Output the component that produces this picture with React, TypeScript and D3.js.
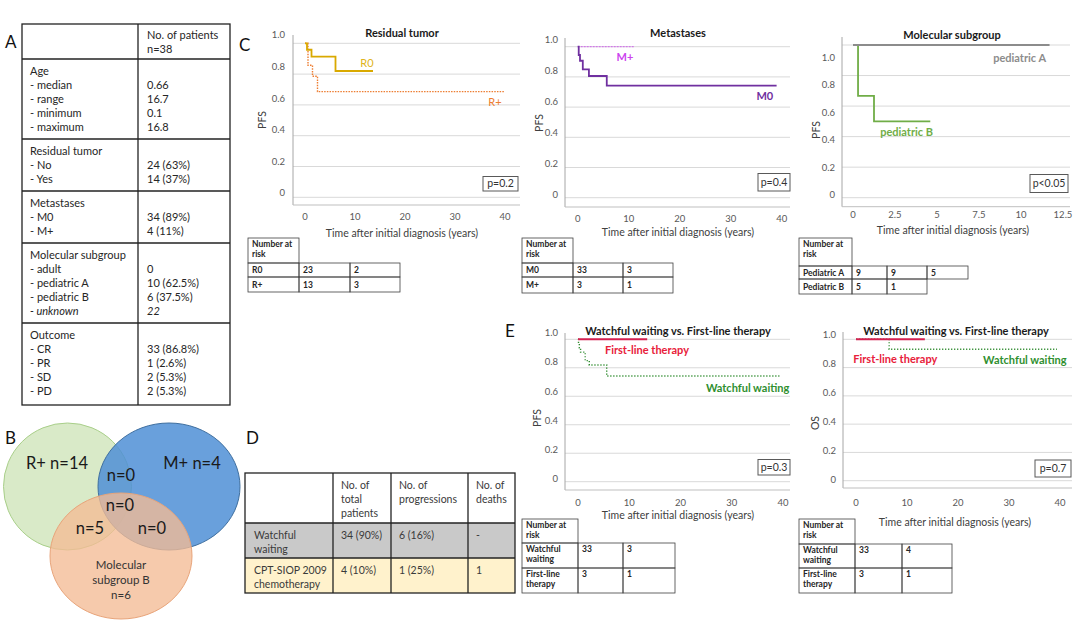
import React, { useEffect, useRef } from 'react';
import * as d3 from 'd3';

type Pt = [number, number];

// ---- Kaplan-Meier curves: [years, survival] ----
const r0Curve: Pt[] = [[0, 1], [0.4, 0.958], [1.3, 0.913], [6.1, 0.82], [13.6, 0.82]];
const rPlusCurve: Pt[] = [[0, 1], [0.6, 0.857], [1.5, 0.786], [2.5, 0.686], [39.8, 0.686]];
const m0Curve: Pt[] = [[0, 1], [0.2, 0.945], [0.45, 0.907], [1.0, 0.85], [2.2, 0.806], [5.7, 0.742], [39, 0.742]];
const mPlusCurve: Pt[] = [[0, 1], [11, 1]];
const pedACurve: Pt[] = [[0, 1], [11.7, 1]];
const pedBCurve: Pt[] = [[0, 1], [0.3, 0.667], [1.25, 0.5], [4.6, 0.5]];
const wwPfsCurve: Pt[] = [[0, 1], [0.1, 0.97], [0.26, 0.94], [0.5, 0.91], [1.4, 0.85], [2.2, 0.82], [5.6, 0.742], [39.3, 0.742]];
const flPfsCurve: Pt[] = [[0, 1], [13.5, 1]];
const wwOsCurve: Pt[] = [[0, 1], [6.5, 0.93], [39.4, 0.93]];
const flOsCurve: Pt[] = [[0, 1], [13.5, 1]];

const yTicks = [0, 0.2, 0.4, 0.6, 0.8, 1];
const yTickLabels = ['0', '0.2', '0.4', '0.6', '0.8', '1.0'];
const xTicks40 = [0, 10, 20, 30, 40];
const xTicksMol = [0, 2.5, 5, 7.5, 10, 12.5];

// ---- number-at-risk tables ----
const riskResidual = [
  { label: ['R0'], values: ['23', '2'] },
  { label: ['R+'], values: ['13', '3'] },
];
const riskMetastases = [
  { label: ['M0'], values: ['33', '3'] },
  { label: ['M+'], values: ['3', '1'] },
];
const riskMolecular = [
  { label: ['Pediatric A'], values: ['9', '9', '5'] },
  { label: ['Pediatric B'], values: ['5', '1'] },
];
const riskTherapyPfs = [
  { label: ['Watchful', 'waiting'], values: ['33', '3'] },
  { label: ['First-line', 'therapy'], values: ['3', '1'] },
];
const riskTherapyOs = [
  { label: ['Watchful', 'waiting'], values: ['33', '4'] },
  { label: ['First-line', 'therapy'], values: ['3', '1'] },
];

// ---- cohort table (A) ----
const cohortHeader = ['No. of patients', 'n=38'];
const cohortLabels = [
  ['Age', '- median', '- range', '- minimum', '- maximum'],
  ['Residual tumor', '- No', '- Yes'],
  ['Metastases', '- M0', '- M+'],
  ['Molecular subgroup', '- adult', '- pediatric A', '- pediatric B', '- unknown'],
  ['Outcome', '- CR', '- PR', '- SD', '- PD'],
];
const cohortValues = [
  ['', '0.66', '16.7', '0.1', '16.8'],
  ['', '24 (63%)', '14 (37%)'],
  ['', '34 (89%)', '4 (11%)'],
  ['', '0', '10 (62.5%)', '6 (37.5%)', '22'],
  ['', '33 (86.8%)', '1 (2.6%)', '2 (5.3%)', '2 (5.3%)'],
];

// ---- therapy table (D) ----
const therapyHeader = [['No. of', 'total', 'patients'], ['No. of', 'progressions'], ['No. of', 'deaths']];
const therapyGroups = [['Watchful', 'waiting'], ['CPT-SIOP 2009', 'chemotherapy']];
const therapyTotals = ['34 (90%)', '4 (10%)'];
const therapyProgressions = ['6 (16%)', '1 (25%)'];
const therapyDeaths = ['-', '1'];

// ---- Venn (B) ----
const vennSets = ['R+', 'M+'];
const vennCounts = [14, 4, 6];
const vennOverlaps = [0, 0, 5, 0]; // R+∩M+, all three, R+∩B, M+∩B

const FONT = "Lato, 'Liberation Sans', sans-serif";

interface Series {
  curve: Pt[];
  color: string;
  width: number;
  dash?: string;
  label: string;
  labelColor: string;
  labelAt: Pt;
  bold?: boolean;
}

interface KMConfig {
  title: string; titleX: number; titleY: number;
  yLabel: string; yLabelX: number; yLabelY: number;
  xDomain: [number, number]; xRange: [number, number];
  yRange: [number, number]; yLabelRange: [number, number];
  gridX: [number, number]; axisTop: number; axisY: number;
  xTicks: number[]; tickLabelY: number; yTickRight: number;
  xTitleX: number; xTitleY: number;
  series: Series[];
  pText: string; pBox: [number, number, number, number];
  risk: { cols: number[]; top: number; headerBottom: number; rowBottoms: number[]; rows: { label: string[]; values: string[] }[] };
}

function drawKM(root: d3.Selection<SVGGElement, unknown, null, undefined>, cfg: KMConfig) {
  const g = root.append('g');
  const x = d3.scaleLinear().domain(cfg.xDomain).range(cfg.xRange);
  const y = d3.scaleLinear().domain([0, 1]).range(cfg.yRange);
  const yLab = d3.scaleLinear().domain([0, 1]).range(cfg.yLabelRange);

  g.selectAll('line.grid').data(yTicks).join('line')
    .attr('x1', cfg.gridX[0]).attr('x2', cfg.gridX[1])
    .attr('y1', d => y(d)).attr('y2', d => y(d))
    .attr('stroke', '#d9d9d9').attr('stroke-width', 1);

  g.append('line')
    .attr('x1', cfg.gridX[0]).attr('x2', cfg.gridX[0])
    .attr('y1', cfg.axisTop).attr('y2', cfg.axisY)
    .attr('stroke', '#a6a6a6');
  g.append('line')
    .attr('x1', cfg.gridX[0]).attr('x2', cfg.gridX[1])
    .attr('y1', cfg.axisY).attr('y2', cfg.axisY)
    .attr('stroke', '#bfbfbf');

  g.selectAll('text.ytick').data(yTicks).join('text')
    .attr('x', cfg.yTickRight).attr('y', d => yLab(d)).attr('dy', '0.35em')
    .attr('text-anchor', 'end').style('font-size', '9.5px').style('fill', '#595959')
    .text((_, i) => yTickLabels[i]);

  g.selectAll('text.xtick').data(cfg.xTicks).join('text')
    .attr('x', d => x(d)).attr('y', cfg.tickLabelY)
    .attr('text-anchor', 'middle').style('font-size', '9.5px').style('fill', '#595959')
    .text(d => String(d));

  g.append('text')
    .attr('x', cfg.titleX).attr('y', cfg.titleY).attr('text-anchor', 'middle')
    .style('font-size', '11px').style('font-weight', 'bold').style('fill', '#1a1a1a')
    .text(cfg.title);

  g.append('text')
    .attr('x', cfg.xTitleX).attr('y', cfg.xTitleY).attr('text-anchor', 'middle')
    .style('font-size', '10.5px').style('fill', '#404040')
    .text('Time after initial diagnosis (years)');

  // rotated axis title; baseline sits on the right, glyphs extend left
  g.append('text')
    .attr('transform', `translate(${cfg.yLabelX + 2},${cfg.yLabelY}) rotate(-90)`)
    .attr('text-anchor', 'middle')
    .style('font-size', '10.5px').style('fill', '#404040')
    .text(cfg.yLabel);

  const line = d3.line<Pt>().x(d => x(d[0])).y(d => y(d[1])).curve(d3.curveStepAfter);
  cfg.series.forEach(s => {
    g.append('path')
      .attr('d', line(s.curve) || '')
      .attr('fill', 'none').attr('stroke', s.color)
      .attr('stroke-width', s.width)
      .attr('stroke-dasharray', s.dash || null);
  });
  cfg.series.forEach(s => {
    g.append('text')
      .attr('x', x(s.labelAt[0])).attr('y', y(s.labelAt[1]))
      .attr('text-anchor', 'middle')
      .style('font-size', '11px').style('font-weight', s.bold ? 'bold' : 'normal')
      .style('fill', s.labelColor)
      .text(s.label);
  });

  const [px, py, pw, ph] = cfg.pBox;
  g.append('rect').attr('x', px).attr('y', py).attr('width', pw).attr('height', ph)
    .attr('fill', '#fff').attr('stroke', '#595959').attr('stroke-width', 1);
  g.append('text').attr('x', px + pw / 2).attr('y', py + ph / 2).attr('dy', '0.35em')
    .attr('text-anchor', 'middle').style('font-size', '10.5px').style('fill', '#333')
    .text(cfg.pText);

  // number at risk
  const rt = cfg.risk;
  const cell = (x0: number, y0: number, x1: number, y1: number) =>
    g.append('rect').attr('x', x0).attr('y', y0).attr('width', x1 - x0).attr('height', y1 - y0)
      .attr('fill', 'none').attr('stroke', '#404040').attr('stroke-width', 0.8);
  const cellText = (lines: string[], x0: number, y0: number, y1: number) => {
    const h = y1 - y0;
    lines.forEach((t, i) => {
      const base = lines.length === 1 ? y0 + h / 2 + 3 : y0 + 9 + i * 10;
      g.append('text').attr('x', x0 + 4).attr('y', base)
        .style('font-size', '8.5px').style('font-weight', 'bold').style('fill', '#262626')
        .text(t);
    });
  };
  cell(rt.cols[0], rt.top, rt.cols[1], rt.headerBottom);
  cellText(['Number at', 'risk'], rt.cols[0], rt.top, rt.headerBottom);
  rt.rows.forEach((row, i) => {
    const top = i === 0 ? rt.headerBottom : rt.rowBottoms[i - 1];
    const bottom = rt.rowBottoms[i];
    cell(rt.cols[0], top, rt.cols[1], bottom);
    cellText(row.label, rt.cols[0], top, bottom);
    row.values.forEach((v, j) => {
      cell(rt.cols[j + 1], top, rt.cols[j + 2], bottom);
      g.append('text').attr('x', rt.cols[j + 1] + 4).attr('y', row.label.length > 1 ? top + 9 : top + (bottom - top) / 2 + 3)
        .style('font-size', '8.5px').style('font-weight', 'bold').style('fill', '#262626')
        .text(v);
    });
  });
}

const App: React.FC = () => {
  const ref = useRef<SVGSVGElement | null>(null);

  useEffect(() => {
    if (!ref.current) return;
    const svg = d3.select(ref.current);
    svg.selectAll('*').remove();
    const root = svg.append('g').style('font-family', FONT);

    // panel letters
    const letters: [string, number, number][] = [['A', 5, 48], ['B', 5, 444], ['C', 239, 51], ['D', 246, 444], ['E', 505, 337]];
    root.selectAll('text.letter').data(letters).join('text')
      .attr('x', d => d[1]).attr('y', d => d[2])
      .style('font-size', '17px').style('fill', '#111')
      .text(d => d[0]);

    // ---- A: cohort table ----
    const tA = root.append('g');
    const aLeft = 22, aMid = 138, aRight = 230, aTop = 24, aHead = 59;
    const bounds = [aTop, aHead];
    cohortLabels.forEach(sec => bounds.push(bounds[bounds.length - 1] + sec.length * 14 + 10));
    const aBottom = bounds[bounds.length - 1] + 2;
    bounds[bounds.length - 1] = aBottom;
    tA.append('rect').attr('x', aLeft).attr('y', aTop).attr('width', aRight - aLeft).attr('height', aBottom - aTop)
      .attr('fill', '#fff').attr('stroke', '#222').attr('stroke-width', 1.3);
    tA.append('line').attr('x1', aMid).attr('x2', aMid).attr('y1', aTop).attr('y2', aBottom)
      .attr('stroke', '#222').attr('stroke-width', 1.3);
    bounds.slice(1, -1).forEach(b => {
      tA.append('line').attr('x1', aLeft).attr('x2', aRight).attr('y1', b).attr('y2', b)
        .attr('stroke', '#222').attr('stroke-width', 1.3);
    });
    cohortHeader.forEach((t, i) => {
      tA.append('text').attr('x', aMid + 9).attr('y', aTop + 15 + i * 14)
        .style('font-size', '11px').style('fill', '#262626').text(t);
    });
    cohortLabels.forEach((sec, s) => {
      const top = bounds[s + 1];
      sec.forEach((t, i) => {
        const italic = t === '- unknown';
        tA.append('text').attr('x', aLeft + 8).attr('y', top + 16 + i * 14)
          .style('font-size', '11px').style('fill', '#262626')
          .style('font-style', italic ? 'italic' : 'normal').text(t);
        const v = cohortValues[s][i];
        if (v) {
          tA.append('text').attr('x', aMid + 9).attr('y', top + 16 + i * 14)
            .style('font-size', '11px').style('fill', '#262626')
            .style('font-style', italic ? 'italic' : 'normal').text(v);
        }
      });
    });

    // ---- B: Venn diagram ----
    const vB = root.append('g');
    const ellipses = [
      { cx: 67.5, cy: 486.5, rx: 64, ry: 63.5, fill: '#d9eac8', stroke: '#a9cf8a', op: 1 },
      { cx: 169, cy: 486.5, rx: 71, ry: 63.5, fill: '#4f8fd6', stroke: '#3f6f9f', op: 0.85 },
      { cx: 121, cy: 556, rx: 71, ry: 63, fill: '#f4bb95', stroke: '#e8a47a', op: 0.78 },
    ];
    vB.selectAll('ellipse').data(ellipses).join('ellipse')
      .attr('cx', d => d.cx).attr('cy', d => d.cy).attr('rx', d => d.rx).attr('ry', d => d.ry)
      .attr('fill', d => d.fill).attr('fill-opacity', d => d.op)
      .attr('stroke', d => d.stroke).attr('stroke-width', 1);
    const big = (t: string, x: number, yy: number) =>
      vB.append('text').attr('x', x).attr('y', yy).attr('text-anchor', 'middle')
        .style('font-size', '16.5px').style('fill', '#1a1a1a').text(t);
    big(`${vennSets[0]} n=${vennCounts[0]}`, 57, 469);
    big(`${vennSets[1]} n=${vennCounts[1]}`, 192, 469);
    big(`n=${vennOverlaps[0]}`, 121, 481);
    big(`n=${vennOverlaps[1]}`, 120, 511);
    big(`n=${vennOverlaps[2]}`, 90, 534);
    big(`n=${vennOverlaps[3]}`, 152, 534);
    ['Molecular', 'subgroup B', `n=${vennCounts[2]}`].forEach((t, i) => {
      vB.append('text').attr('x', 121).attr('y', 569 + i * 15).attr('text-anchor', 'middle')
        .style('font-size', '11.5px').style('fill', '#333').text(t);
    });

    // ---- D: therapy table ----
    const tD = root.append('g');
    const dCols = [245, 333, 391, 468, 515];
    const dRows = [473, 523, 558, 593];
    const rowFills = ['#fff', '#c9c9c9', '#fff2cc'];
    rowFills.forEach((f, r) => {
      tD.append('rect').attr('x', dCols[0]).attr('y', dRows[r]).attr('width', dCols[4] - dCols[0])
        .attr('height', dRows[r + 1] - dRows[r]).attr('fill', f);
    });
    tD.append('rect').attr('x', dCols[0]).attr('y', dRows[0]).attr('width', dCols[4] - dCols[0])
      .attr('height', dRows[3] - dRows[0]).attr('fill', 'none').attr('stroke', '#222').attr('stroke-width', 1.3);
    dCols.slice(1, -1).forEach(c => tD.append('line').attr('x1', c).attr('x2', c).attr('y1', dRows[0]).attr('y2', dRows[3])
      .attr('stroke', '#222').attr('stroke-width', 1.3));
    dRows.slice(1, -1).forEach(r => tD.append('line').attr('x1', dCols[0]).attr('x2', dCols[4]).attr('y1', r).attr('y2', r)
      .attr('stroke', '#222').attr('stroke-width', 1.3));
    const dText = (lines: string[], x: number, top: number) => lines.forEach((t, i) =>
      tD.append('text').attr('x', x).attr('y', top + 16 + i * 14)
        .style('font-size', '10.5px').style('fill', '#3a3a3a').text(t));
    therapyHeader.forEach((h, c) => dText(h, dCols[c + 1] + 8, dRows[0]));
    therapyGroups.forEach((grp, r) => {
      const top = dRows[r + 1];
      dText(grp, dCols[0] + 9, top);
      dText([therapyTotals[r]], dCols[1] + 8, top);
      dText([therapyProgressions[r]], dCols[2] + 8, top);
      dText([therapyDeaths[r]], dCols[3] + 8, top);
    });

    // ---- C / E: survival curves ----
    const panels: KMConfig[] = [
      {
        title: 'Residual tumor', titleX: 402, titleY: 37, yLabel: 'PFS', yLabelX: 264, yLabelY: 120,
        xDomain: [0, 40], xRange: [305, 505], yRange: [197.3, 43.3], yLabelRange: [193, 35],
        gridX: [293, 520], axisTop: 35, axisY: 205, xTicks: xTicks40, tickLabelY: 220, yTickRight: 285,
        xTitleX: 402, xTitleY: 237,
        series: [
          { curve: rPlusCurve, color: '#ed7d31', width: 1.4, dash: '1.5,1.2', label: 'R+', labelColor: '#ed7d31', labelAt: [38, 0.593] },
          { curve: r0Curve, color: '#d9a900', width: 1.8, label: 'R0', labelColor: '#e0b420', labelAt: [12.4, 0.846] },
        ],
        pText: 'p=0.2', pBox: [483, 176.5, 35, 14.5],
        risk: { cols: [248, 299, 350, 400], top: 238, headerBottom: 263, rowBottoms: [277, 292], rows: riskResidual },
      },
      {
        title: 'Metastases', titleX: 678, titleY: 37, yLabel: 'PFS', yLabelX: 541, yLabelY: 123,
        xDomain: [0, 40], xRange: [577.7, 781.7], yRange: [197.7, 46.7], yLabelRange: [195, 40],
        gridX: [565, 790], axisTop: 38, axisY: 207, xTicks: xTicks40, tickLabelY: 222, yTickRight: 558,
        xTitleX: 678, xTitleY: 236,
        series: [
          { curve: mPlusCurve, color: '#d17ae8', width: 1.2, dash: '2,1', label: 'M+', labelColor: '#cc44ee', labelAt: [9.27, 0.905], bold: true },
          { curve: m0Curve, color: '#7030a0', width: 1.8, label: 'M0', labelColor: '#7030a0', labelAt: [36.7, 0.647], bold: true },
        ],
        pText: 'p=0.4', pBox: [758, 173.5, 32, 17.5],
        risk: { cols: [522, 573, 623, 673], top: 238, headerBottom: 263, rowBottoms: [277, 293], rows: riskMetastases },
      },
      {
        title: 'Molecular subgroup', titleX: 952, titleY: 39, yLabel: 'PFS', yLabelX: 818, yLabelY: 130,
        xDomain: [0, 12.5], xRange: [853, 1063], yRange: [197.7, 45], yLabelRange: [195, 57.7],
        gridX: [842, 1070], axisTop: 37, axisY: 206.7, xTicks: xTicksMol, tickLabelY: 218, yTickRight: 835,
        xTitleX: 953, xTitleY: 234,
        series: [
          { curve: pedBCurve, color: '#70ad47', width: 1.8, label: 'pediatric B', labelColor: '#70ad47', labelAt: [3.19, 0.404], bold: true },
          { curve: pedACurve, color: '#8c8c8c', width: 1.8, label: 'pediatric A', labelColor: '#8c8c8c', labelAt: [9.92, 0.889], bold: true },
        ],
        pText: 'p<0.05', pBox: [1030, 174.5, 38, 18],
        risk: { cols: [799, 852, 887, 927, 968], top: 238, headerBottom: 266, rowBottoms: [279, 294], rows: riskMolecular },
      },
      {
        title: 'Watchful waiting vs. First-line therapy', titleX: 678, titleY: 335, yLabel: 'PFS', yLabelX: 539, yLabelY: 418,
        xDomain: [0, 40], xRange: [578, 783], yRange: [481.7, 339.3], yLabelRange: [479, 332.7],
        gridX: [565, 790], axisTop: 333, axisY: 490, xTicks: xTicks40, tickLabelY: 506, yTickRight: 558,
        xTitleX: 678, xTitleY: 519,
        series: [
          { curve: wwPfsCurve, color: '#2e8b2e', width: 1.4, dash: '1.2,1.8', label: 'Watchful waiting', labelColor: '#2f8f2f', labelAt: [33.1, 0.633], bold: true },
          { curve: flPfsCurve, color: '#d42050', width: 2, label: 'First-line therapy', labelColor: '#e8203a', labelAt: [13.46, 0.9], bold: true },
        ],
        pText: 'p=0.3', pBox: [758, 459.5, 32, 15.5],
        risk: { cols: [522, 578, 623, 675], top: 519, headerBottom: 543, rowBottoms: [568, 593], rows: riskTherapyPfs },
      },
      {
        title: 'Watchful waiting vs. First-line therapy', titleX: 956, titleY: 335, yLabel: 'OS', yLabelX: 817, yLabelY: 423,
        xDomain: [0, 40], xRange: [856, 1060], yRange: [480.7, 339.3], yLabelRange: [480, 335],
        gridX: [843, 1072], axisTop: 332, axisY: 488, xTicks: xTicks40, tickLabelY: 506, yTickRight: 836,
        xTitleX: 955, xTitleY: 526,
        series: [
          { curve: wwOsCurve, color: '#2e8b2e', width: 1.4, dash: '1.2,1.8', label: 'Watchful waiting', labelColor: '#2f8f2f', labelAt: [33.1, 0.826], bold: true },
          { curve: flOsCurve, color: '#d42050', width: 2, label: 'First-line therapy', labelColor: '#e8203a', labelAt: [7.7, 0.833], bold: true },
        ],
        pText: 'p=0.7', pBox: [1035, 460, 36, 17],
        risk: { cols: [799, 855, 902, 952], top: 519, headerBottom: 544, rowBottoms: [568, 593], rows: riskTherapyOs },
      },
    ];
    panels.forEach(p => drawKM(root, p));
  }, []);

  return (
    <svg
      ref={ref}
      width={1080}
      height={624}
      style={{ position: 'absolute', left: 0, top: 0, background: '#fff' }}
    />
  );
};

export default App;
